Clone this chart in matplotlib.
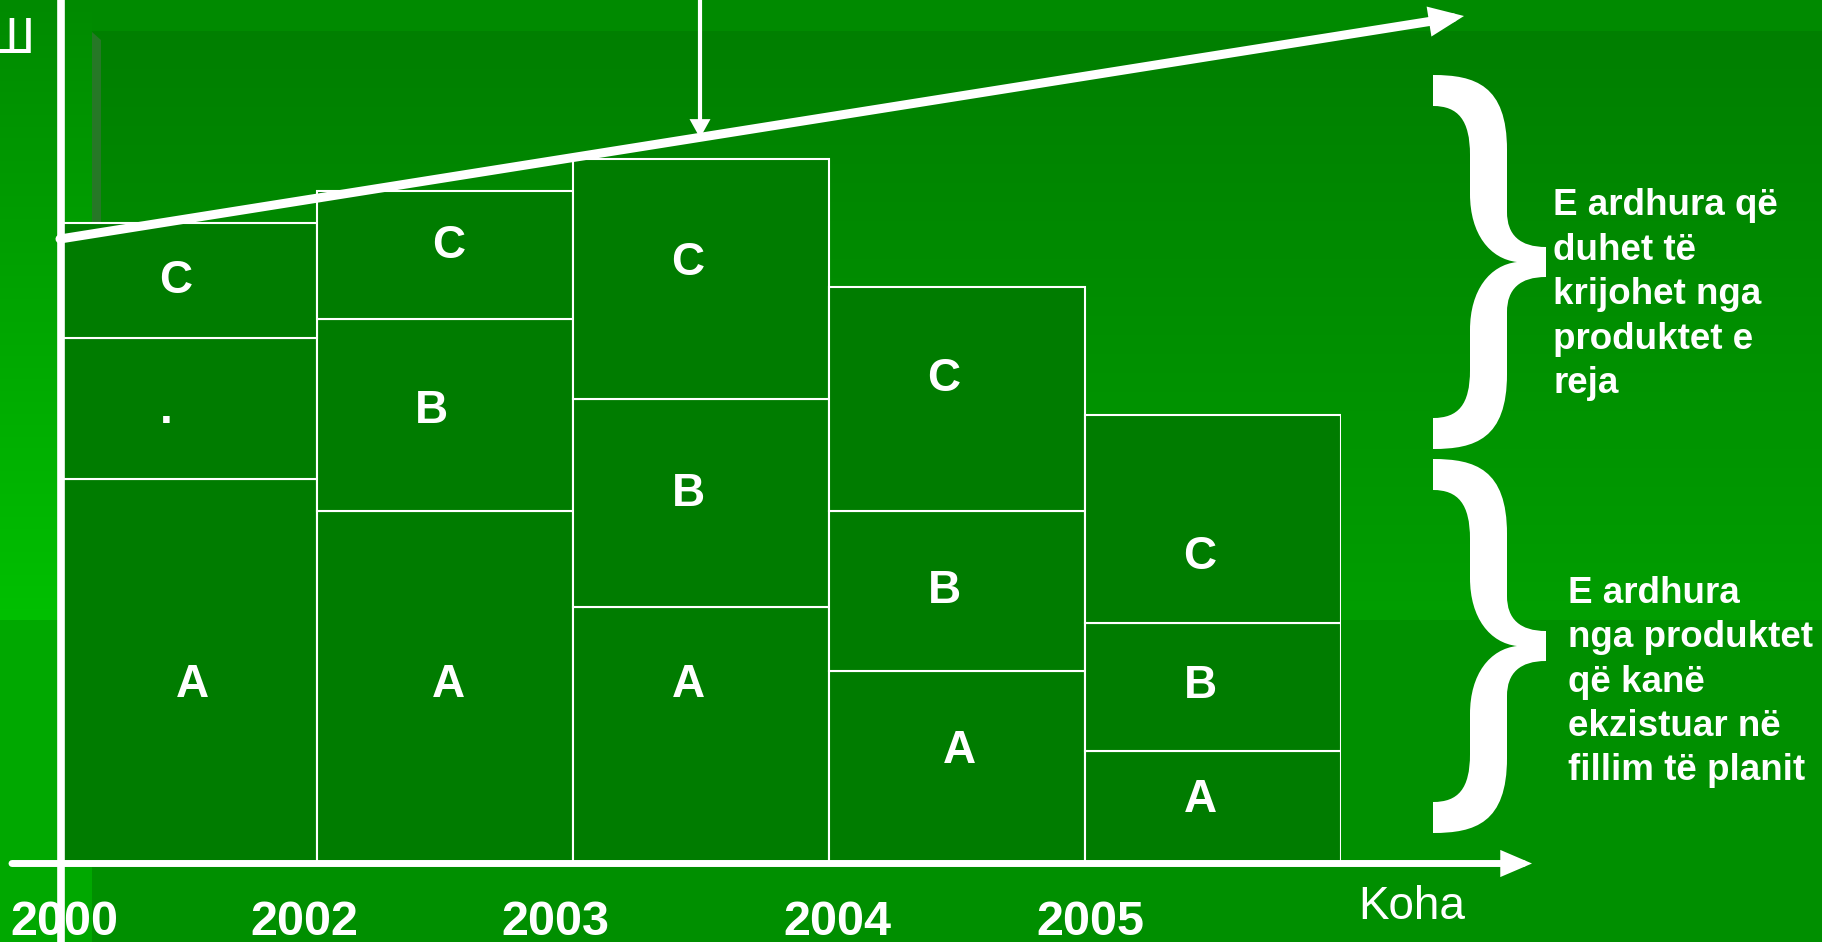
import numpy as np
import matplotlib
matplotlib.use('Agg')
import matplotlib.pyplot as plt
from matplotlib.patches import PathPatch, FancyArrowPatch, Polygon
from matplotlib.path import Path
from matplotlib.transforms import blended_transform_factory

plt.rcParams['font.family'] = ['Liberation Sans', 'DejaVu Sans']

# ---------------- data ----------------
years = ['2000', '2002', '2003', '2004', '2005']
rev_A = [60, 55, 40, 30, 17.5]
rev_B = [22, 30, 32.5, 25, 20]
rev_C = [18, 20, 37.5, 35, 32.5]
labels_A = ['A', 'A', 'A', 'A', 'A']
labels_B = ['.', 'B', 'B', 'B', 'B']
labels_C = ['C', 'C', 'C', 'C', 'C']
new_text = ['E ardhura që', 'duhet të', 'krijohet nga', 'produktet e', 'reja']
old_text = ['E ardhura', 'nga produktet', 'që kanë', 'ekzistuar në', 'fillim të planit']
x_title = 'Koha'
corner_glyph = 'Ш'

# ---------------- layout (pixels) ----------------
W, H = 1822, 942
BAR_L, BAR_R, BASE = 60.4, 1341.0, 863.0
PX_PER_UNIT = 6.4
BAR_COLOR = '#007C00'

# label nudges in pixels (dx right, dy down)
nudge_A = [(4, 10), (4, -6), (-12, -54), (3, -20), (-13, -11)]
nudge_B = [(-22, -2), (-13, -8), (-12, -13), (-12, -4), (-13, -5)]
nudge_C = [(-13, -4), (4, -13), (-13, -20), (-13, -24), (-13, 34)]
year_nudge = [4, -12, -17, 9, 5]

fig = plt.figure(figsize=(W / 100, H / 100), dpi=100)

# ---------- background ----------
bg = fig.add_axes([0, 0, 1, 1])
bg.set_xlim(0, W)
bg.set_ylim(H, 0)
bg.axis('off')
yy = np.arange(H)[:, None].astype(float)
xx = np.arange(W)[None, :]
gL = np.where(yy < 620, 138 + (192 - 138) * yy / 620, 168)
gR = np.where(yy < 31, 138, np.where(yy < 620, 127 + (158 - 127) * (yy - 31) / 589, 143))
G = np.where(xx < 92, gL, gR)
img = np.zeros((H, W, 3))
img[..., 1] = G / 255.0
bg.imshow(img, extent=(0, W, H, 0), aspect='auto', interpolation='nearest')
bg.add_patch(Polygon([(92, 32), (101, 40), (101, 223), (92, 223)], closed=True,
                     facecolor='#267826', edgecolor='none'))

# ---------- bars ----------
ax = fig.add_axes([BAR_L / W, (H - BASE) / H, (BAR_R - BAR_L) / W, BASE / H])
ax.set_xlim(-0.5, 4.5)
ax.set_ylim(0, BASE / PX_PER_UNIT)
ax.axis('off')
ax.patch.set_visible(False)

x = np.arange(len(years))
A = np.array(rev_A)
B = np.array(rev_B)
C = np.array(rev_C)
ax.bar(x, A, width=1.0, color=BAR_COLOR, edgecolor='white', linewidth=1.5)
ax.bar(x, B, bottom=A, width=1.0, color=BAR_COLOR, edgecolor='white', linewidth=1.5)
ax.bar(x, C, bottom=A + B, width=1.0, color=BAR_COLOR, edgecolor='white', linewidth=1.5)

cap_half = 16
for seg_vals, seg_bottom, labs, nud in [(A, np.zeros(5), labels_A, nudge_A),
                                        (B, A, labels_B, nudge_B),
                                        (C, A + B, labels_C, nudge_C)]:
    for i in range(len(years)):
        dx, dy = nud[i]
        ax.annotate(labs[i], xy=(x[i], seg_bottom[i] + seg_vals[i] / 2),
                    xytext=(dx * 0.72, -(dy + cap_half) * 0.72), textcoords='offset points',
                    ha='center', va='baseline', fontsize=33, fontweight='bold', color='white')

# ---------- overlay ----------
ov = fig.add_axes([0, 0, 1, 1])
ov.set_xlim(0, W)
ov.set_ylim(H, 0)
ov.axis('off')
ov.patch.set_visible(False)

# y axis
ov.plot([60.5, 60.5], [0, H], color='white', lw=5.5, solid_capstyle='butt')
# x axis
ov.add_patch(FancyArrowPatch((12, 863.5), (1532, 863.5),
                             arrowstyle='-|>,head_length=14,head_width=6', mutation_scale=1,
                             lw=5, color='white', shrinkA=0, shrinkB=0, joinstyle='miter'))
# trend arrow
ov.add_patch(FancyArrowPatch((60, 239), (1464, 16),
                             arrowstyle='-|>,head_length=14,head_width=6', mutation_scale=1,
                             lw=6.5, color='white', shrinkA=0, shrinkB=0, joinstyle='miter'))
# down arrow
ov.add_patch(FancyArrowPatch((700, 0), (700, 138),
                             arrowstyle='-|>,head_length=9,head_width=5', mutation_scale=1,
                             lw=3, color='white', shrinkA=0, shrinkB=0, joinstyle='miter'))


def brace(ytop):
    x0, xi, xo, xn, xt = 1433, 1470, 1507, 1517, 1546
    ym = ytop + 187
    yb = ytop + 374
    verts = [
        (x0, ytop),
        (1475, ytop), (xo, ytop + 10), (xo, ytop + 75),
        (xo, ym - 50),
        (xo, ym - 27), (1520, ym - 15), (xt, ym - 15),
        (xt, ym + 15),
        (1520, ym + 15), (xo, ym + 27), (xo, ym + 50),
        (xo, yb - 75),
        (xo, yb - 10), (1475, yb), (x0, yb),
        (x0, yb - 31),
        (1458, yb - 31), (xi, yb - 44), (xi, yb - 79),
        (xi, ym + 68),
        (xi, ym + 28), (1490, ym + 3), (xn, ym),
        (1490, ym - 3), (xi, ym - 28), (xi, ym - 68),
        (xi, ytop + 80),
        (xi, ytop + 45), (1458, ytop + 31), (x0, ytop + 31),
        (x0, ytop),
    ]
    codes = [Path.MOVETO,
             Path.CURVE4, Path.CURVE4, Path.CURVE4,
             Path.LINETO,
             Path.CURVE4, Path.CURVE4, Path.CURVE4,
             Path.LINETO,
             Path.CURVE4, Path.CURVE4, Path.CURVE4,
             Path.LINETO,
             Path.CURVE4, Path.CURVE4, Path.CURVE4,
             Path.LINETO,
             Path.CURVE4, Path.CURVE4, Path.CURVE4,
             Path.LINETO,
             Path.CURVE4, Path.CURVE4, Path.CURVE4,
             Path.CURVE4, Path.CURVE4, Path.CURVE4,
             Path.LINETO,
             Path.CURVE4, Path.CURVE4, Path.CURVE4,
             Path.CLOSEPOLY]
    return PathPatch(Path(verts, codes), facecolor='white', edgecolor='none')


ov.add_patch(brace(75))
ov.add_patch(brace(459))

for k, line in enumerate(new_text):
    ov.text(1553, 215 + k * 44.6, line, ha='left', va='baseline', fontsize=26.5,
            fontweight='bold', color='white')
for k, line in enumerate(old_text):
    ov.text(1568, 603 + k * 44.3, line, ha='left', va='baseline', fontsize=26.5,
            fontweight='bold', color='white')

ov.text(1358, 919, x_title, ha='left', va='baseline', fontsize=33, color='white')
ov.text(35, 53, corner_glyph, ha='right', va='baseline', fontsize=36, color='white')

# year labels: x from bar axis (left edges), y in pixel overlay
trans = blended_transform_factory(ax.transData, ov.transData)
for i, yr in enumerate(years):
    ov.annotate(yr, xy=(x[i] - 0.5, 935), xycoords=trans,
                xytext=(year_nudge[i] * 0.72, 0), textcoords='offset points',
                ha='center', va='baseline', fontsize=35, fontweight='bold', color='white')

fig.savefig('out.png', dpi=100)
